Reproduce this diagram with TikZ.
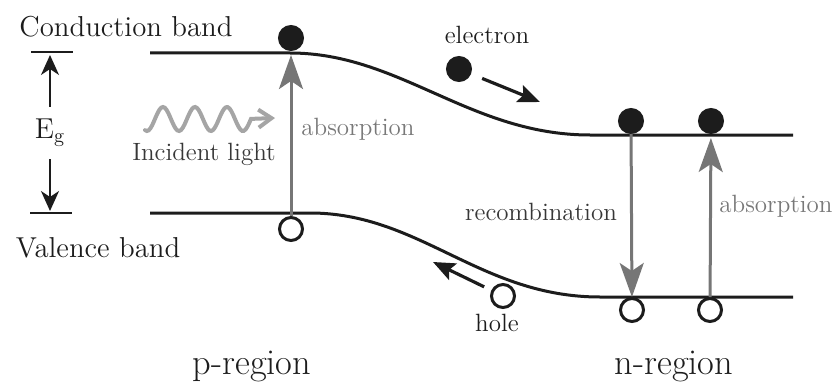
\documentclass[tikz,border=0pt]{standalone}
\usepackage{xcolor}
\usetikzlibrary{arrows.meta}
\definecolor{bandblack}{RGB}{28,28,28}
\definecolor{jumpgray}{RGB}{118,118,118}
\definecolor{textgray}{RGB}{120,120,120}
\definecolor{labeldark}{RGB}{55,55,55}
\definecolor{wavegray}{RGB}{165,165,165}

\begin{document}
\begin{tikzpicture}[x=0.5pt, y=-0.5pt,
    electron/.style={circle, fill=bandblack, draw=bandblack, line width=1pt, minimum size=12pt, inner sep=0pt},
    hole/.style={circle, draw=bandblack, fill=white, line width=1.5pt, minimum size=11.5pt, inner sep=0pt},
    band/.style={draw=bandblack, line width=1.5pt},
    jump/.style={draw=jumpgray, line width=1.5pt, -{Stealth[length=17pt,width=12pt,inset=4pt]}},
    drift/.style={draw=bandblack, line width=1.6pt, -{Stealth[length=11pt,width=9pt,inset=2pt]}},
    gaparrow/.style={draw=bandblack, line width=1.2pt, -{Stealth[length=10pt,width=9pt,inset=3pt]}},
    bigtext/.style={font=\fontsize{14.4}{17}\selectfont, text=bandblack, inner sep=0pt},
    smalltext/.style={font=\fontsize{12.5}{15}\selectfont, inner sep=0pt}]
        \useasboundingbox (0,0) rectangle (834,385);
        % bands
        \draw[band] (150,53) -- (290,53) .. controls (400,53) and (470,135) .. (590,135) -- (793,135);
        \draw[band] (150,213) -- (310,213) .. controls (420,213) and (480,297) .. (600,297) -- (793,297);
        \draw[bandblack, line width=1pt] (31,52) -- (73,52);
        \draw[bandblack, line width=1pt] (30,213) -- (72,213);
        % labels
        \node[bigtext] (cb) at (126,27) {Conduction band};
        \node[bigtext] (vb) at (98,248) {Valence band};
        \node[bigtext, inner sep=6pt] (eg) at (50,133) {E\textsubscript{g}};
        \node[font=\fontsize{18.2}{22}\selectfont, text=bandblack] (preg) at (252,366) {p-region};
        \node[font=\fontsize{18.2}{22}\selectfont, text=bandblack] (nreg) at (674,366) {n-region};
        \node[smalltext, text=labeldark] (light) at (204,154) {Incident light};
        \node[smalltext, text=textgray] (abs1) at (358,129) {absorption};
        \node[smalltext, text=textgray] (abs2) at (776,206) {absorption};
        \node[smalltext, text=labeldark] (rec) at (541,212) {recombination};
        \node[smalltext, text=bandblack] (elab) at (487,35) {electron};
        \node[smalltext, text=bandblack] (hlab) at (497,323) {hole};
        % carriers
        \node[electron] (e1) at (291,38) {};
        \node[electron] (e2) at (459,69) {};
        \node[electron] (e3) at (631,121) {};
        \node[electron] (e4) at (711,121) {};
        \node[hole] (h1) at (291,229) {};
        \node[hole] (h2) at (503,296) {};
        \node[hole] (h3) at (632,310) {};
        \node[hole] (h4) at (710,310) {};
        \coordinate (cgap) at (50,55);
        \coordinate (vgap) at (50,211);
        \coordinate (etip) at (540,102);
        \coordinate (htip) at (433,262);
        \coordinate (lighttip) at (275,118);
        % arrows
        \foreach \a/\b in {eg/cgap, eg/vgap}
          \draw[gaparrow] (\a) -- (\b);
        \foreach \a/\b in {h1/e1, h4/e4}
          \draw[jump, shorten >=2pt] (\a) -- (\b);
        \draw[jump] (e3) -- (h3);
        \draw[drift, shorten <=6pt] (e2) -- (etip);
        \draw[drift, shorten <=4pt] (h2) -- (htip);
        \draw[wavegray, line width=2pt, line cap=round, -{Straight Barb[length=6.5pt,width=9pt]}]
          plot[domain=145:251, samples=60] (\x, {119-12*sin((\x-145)*11.25-112)}) -- (lighttip);
\end{tikzpicture}
\end{document}
